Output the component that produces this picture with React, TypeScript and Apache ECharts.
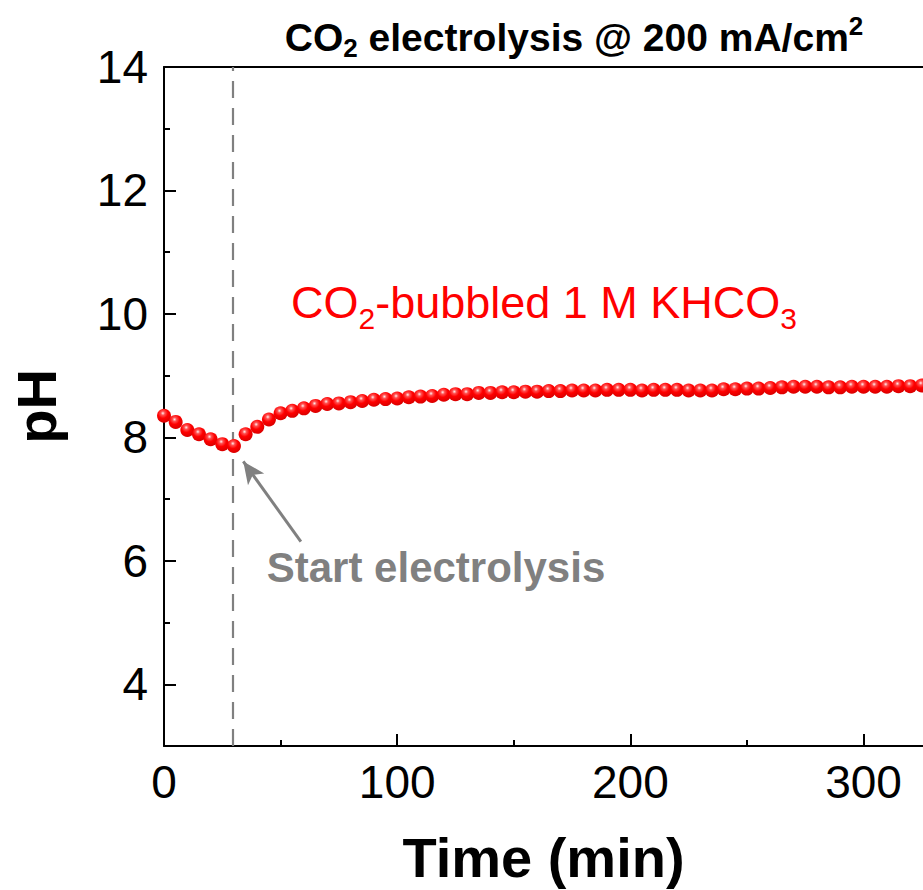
import React, { useEffect, useRef } from "react";
import * as echarts from "echarts";

// ---- data ----
const timeMin = [
  0, 5, 10, 15, 20, 25, 30, 35, 40, 45, 50, 55, 60, 65, 70, 75, 80,
  85, 90, 95, 100, 105, 110, 115, 120, 125, 130, 135, 140, 145, 150, 155,
  160, 165, 170, 175, 180, 185, 190, 195, 200,
  205, 210, 215, 220, 225, 230, 235, 240, 245, 250, 255, 260, 265, 270,
  275, 280, 285, 290, 295, 300, 305, 310, 315, 320, 325,
];
const pH = [
  8.35, 8.25, 8.12, 8.05, 7.97, 7.89, 7.86, 8.05, 8.17, 8.29, 8.39, 8.43, 8.47, 8.51, 8.54, 8.55, 8.57,
  8.59, 8.61, 8.62, 8.63, 8.65, 8.66, 8.67, 8.69, 8.70, 8.70, 8.72, 8.72, 8.73, 8.73, 8.74,
  8.74, 8.75, 8.75, 8.76, 8.76, 8.76, 8.77, 8.77, 8.77,
  8.76, 8.77, 8.77, 8.77, 8.76, 8.76, 8.76, 8.78, 8.78, 8.79, 8.79, 8.80, 8.81, 8.82,
  8.82, 8.82, 8.81, 8.81, 8.82, 8.82, 8.82, 8.82, 8.83, 8.83, 8.84,
];
const xMajorTicks = [0, 100, 200, 300];
const xMinorTicks = [50, 150, 250];
const yMajorTicks = [4, 6, 8, 10, 12, 14];
const yMinorTicks = [5, 7, 9, 11, 13];
const X_MIN = 0;
const X_MAX = 325.5;
const Y_MIN = 3;
const Y_MAX = 14;
const startElectrolysisTime = 29.3;
const arrowFrom = [58.7, 6.31];
const arrowTo = [34.0, 7.61];

const FONT = "'Liberation Sans', Arial, Helvetica, sans-serif";

export default function App() {
  const ref = useRef<HTMLDivElement>(null);

  useEffect(() => {
    if (!ref.current) return;
    const chart = echarts.init(ref.current, undefined, { renderer: "svg" });

    const axisLineStyle = { color: "#000", width: 2 };
    const ballColor = new echarts.graphic.RadialGradient(0.42, 0.32, 0.65, [
      { offset: 0, color: "#fff0f0" },
      { offset: 0.22, color: "#ff5050" },
      { offset: 0.55, color: "#ff0000" },
      { offset: 1, color: "#dc0000" },
    ]);

    const option: any = {
      animation: false,
      backgroundColor: "#fff",
      grid: { left: 163, top: 67, right: 0, bottom: 143, containLabel: false },
      xAxis: [
        {
          type: "value",
          min: X_MIN,
          max: X_MAX,
          position: "bottom",
          axisLine: { show: true, onZero: false, lineStyle: axisLineStyle },
          axisTick: {
            show: true,
            inside: true,
            length: 12,
            lineStyle: axisLineStyle,
            customValues: xMajorTicks,
          },
          axisLabel: {
            customValues: xMajorTicks,
            fontSize: 46,
            color: "#000",
            margin: 13,
            fontFamily: FONT,
          },
          splitLine: { show: false },
          name: "Time (min)",
          nameLocation: "middle",
          nameGap: 83,
          nameTextStyle: { fontSize: 56, fontWeight: "bold", color: "#000", fontFamily: FONT },
        },
        {
          type: "value",
          min: X_MIN,
          max: X_MAX,
          position: "top",
          axisLine: { show: true, onZero: false, lineStyle: axisLineStyle },
          axisTick: { show: false },
          axisLabel: { show: false },
          splitLine: { show: false },
        },
        {
          type: "value",
          min: X_MIN,
          max: X_MAX,
          position: "bottom",
          axisLine: { show: false, onZero: false },
          axisTick: {
            show: true,
            inside: true,
            length: 6,
            lineStyle: axisLineStyle,
            customValues: xMinorTicks,
          },
          axisLabel: { show: false },
          splitLine: { show: false },
        },
      ],
      yAxis: [
        {
          type: "value",
          min: Y_MIN,
          max: Y_MAX,
          position: "left",
          axisLine: { show: true, onZero: false, lineStyle: axisLineStyle },
          axisTick: {
            show: true,
            inside: true,
            length: 12,
            lineStyle: axisLineStyle,
            customValues: yMajorTicks,
          },
          axisLabel: {
            customValues: yMajorTicks,
            fontSize: 46,
            color: "#000",
            margin: 16,
            fontFamily: FONT,
          },
          splitLine: { show: false },
          name: "pH",
          nameLocation: "middle",
          nameGap: 100,
          nameTextStyle: { fontSize: 56, fontWeight: "bold", color: "#000", fontFamily: FONT },
        },
        {
          type: "value",
          min: Y_MIN,
          max: Y_MAX,
          position: "left",
          axisLine: { show: false, onZero: false },
          axisTick: {
            show: true,
            inside: true,
            length: 6,
            lineStyle: axisLineStyle,
            customValues: yMinorTicks,
          },
          axisLabel: { show: false },
          splitLine: { show: false },
        },
      ],
      series: [
        {
          type: "scatter",
          xAxisIndex: 0,
          yAxisIndex: 0,
          symbol: "circle",
          symbolSize: 14,
          z: 5,
          itemStyle: { color: ballColor, opacity: 1 },
          data: timeMin.map((t, i) => [t, pH[i]]),
          markLine: {
            silent: true,
            symbol: ["none", "none"],
            label: { show: false },
            lineStyle: { color: "#808080", width: 2.2, type: [17, 10] },
            data: [{ xAxis: startElectrolysisTime }],
            z: 2,
          },
        },
        {
          type: "scatter",
          xAxisIndex: 0,
          yAxisIndex: 0,
          data: [],
          markLine: {
            silent: true,
            symbol: ["none", "arrow"],
            symbolSize: [15, 22],
            label: { show: false },
            lineStyle: { color: "#808080", width: 3, type: "solid" },
            itemStyle: { color: "#808080" },
            data: [[{ coord: arrowFrom }, { coord: arrowTo }]],
          },
        },
      ],
      graphic: [
        {
          type: "text",
          x: 574,
          y: 37,
          style: {
            text: "{b|CO}{bs|2}{b| electrolysis @ 200 mA/cm}{bp|2}",
            align: "center",
            verticalAlign: "middle",
            rich: {
              b: { fontSize: 39, fontWeight: "bold", fontFamily: FONT, fill: "#000" },
              bs: { fontSize: 26, fontWeight: "bold", fontFamily: FONT, fill: "#000", padding: [22, 0, 0, 0] },
              bp: { fontSize: 26, fontWeight: "bold", fontFamily: FONT, fill: "#000", padding: [0, 0, 22, 0] },
            },
          },
        },
        {
          type: "text",
          x: 544,
          y: 302,
          style: {
            text: "{r|CO}{s|2}{r|-bubbled 1 M KHCO}{s|3}",
            align: "center",
            verticalAlign: "middle",
            rich: {
              r: { fontSize: 45, fontFamily: FONT, fill: "#ff0000" },
              s: { fontSize: 30, fontFamily: FONT, fill: "#ff0000", padding: [32, 0, 0, 0] },
            },
          },
        },
        {
          type: "text",
          x: 436,
          y: 567,
          style: {
            text: "Start electrolysis",
            align: "center",
            verticalAlign: "middle",
            fontSize: 42,
            fontWeight: "bold",
            fontFamily: FONT,
            fill: "#808080",
          },
        },
      ],
    };

    chart.setOption(option);
    return () => chart.dispose();
  }, []);

  return (
    <div
      ref={ref}
      style={{ position: "fixed", left: 0, top: 0, width: 923, height: 890, background: "#fff" }}
    />
  );
}
